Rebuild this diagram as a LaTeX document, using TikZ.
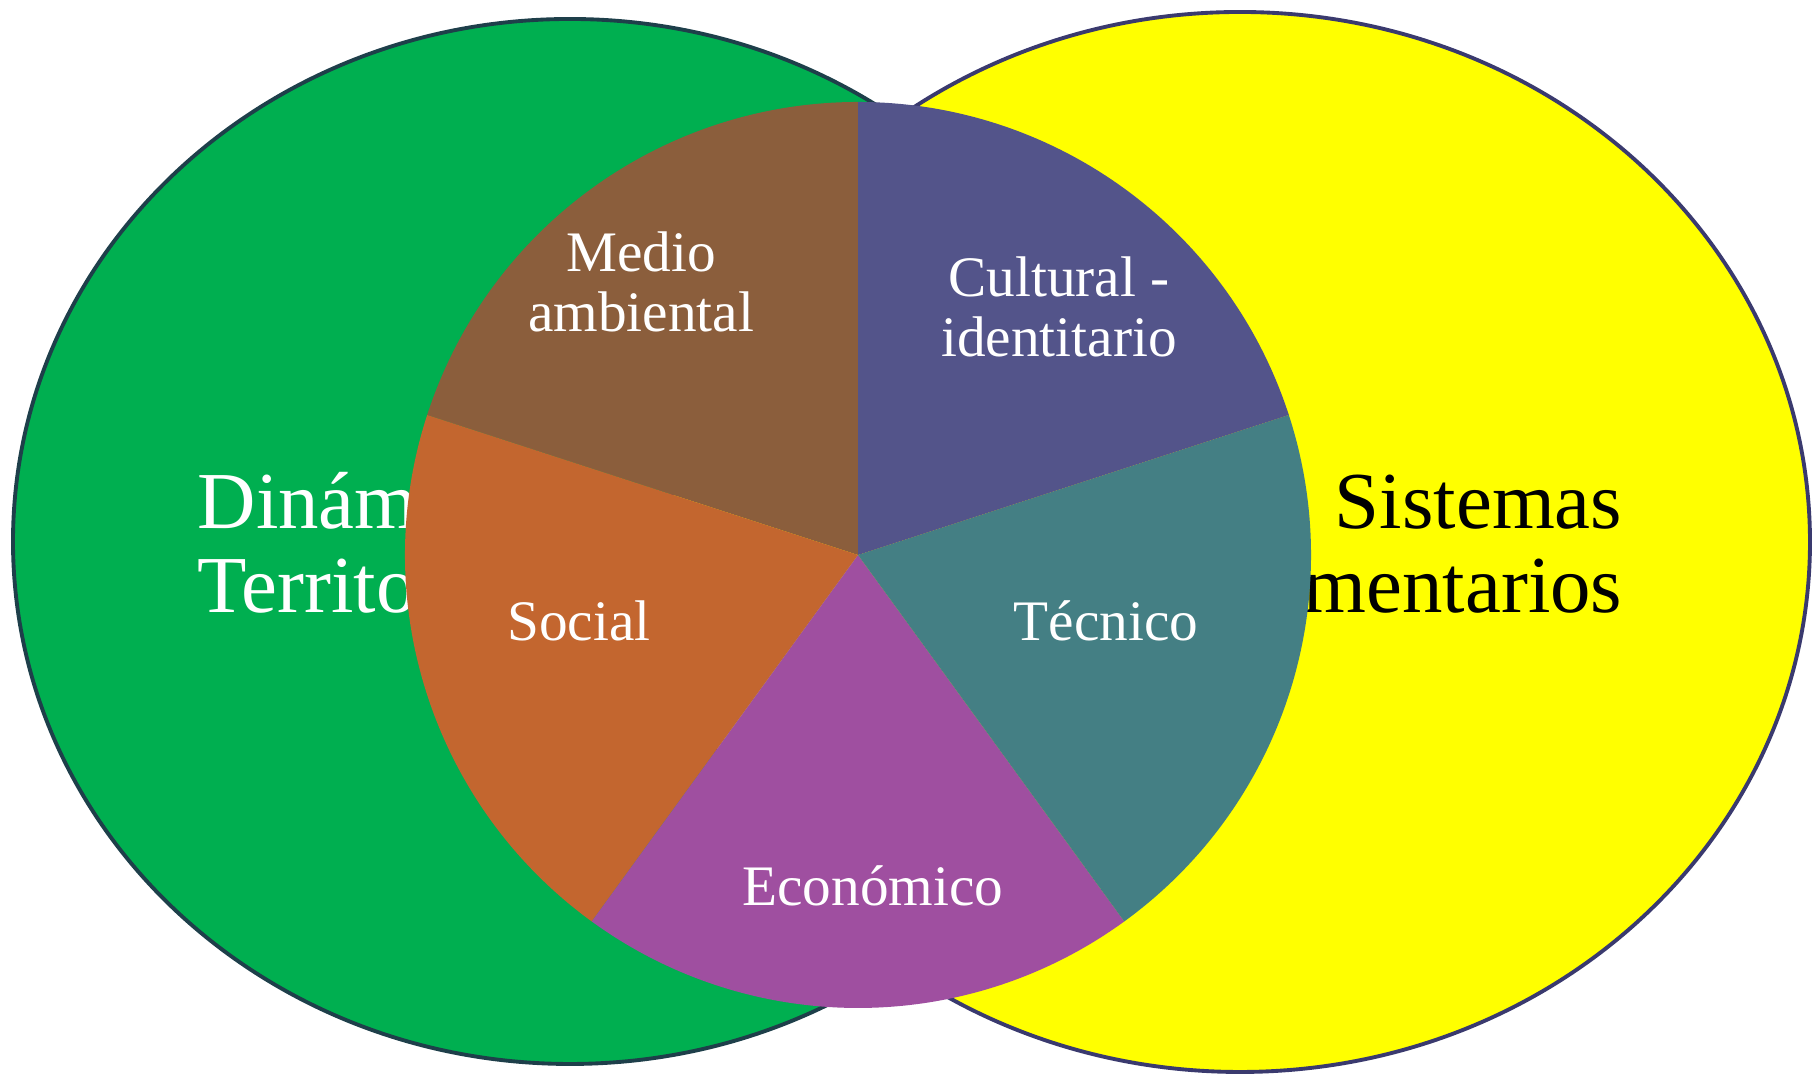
\documentclass[tikz,border=0pt]{standalone}
\usepackage{fontspec}
\setmainfont{Liberation Serif}
\usepackage{tikz}

\definecolor{dimgreen}{HTML}{00AF50}
\definecolor{dimedge}{HTML}{1E3F4A}
\definecolor{sisyellow}{HTML}{FFFF00}
\definecolor{sisedge}{HTML}{3A3A6E}
\definecolor{medio}{HTML}{8B5E3C}
\definecolor{cultural}{HTML}{53548A}
\definecolor{tecnico}{HTML}{447F84}
\definecolor{econ}{HTML}{9F4FA0}
\definecolor{social}{HTML}{C3662F}

\begin{document}
\begin{tikzpicture}[
    bigtext/.style={font=\fontsize{23}{24}\selectfont, inner sep=0pt},
    slicetext/.style={font=\fontsize{16.3}{17.3}\selectfont, text=white, align=center, inner sep=0pt}
  ]
			\useasboundingbox (0,0) rectangle (18.2,10.75);

			% ellipses
			\draw[dimgreen, fill=dimgreen, draw=dimedge, line width=1.1pt] (5.70,5.335) ellipse [x radius=5.57, y radius=5.225];
			\draw[fill=sisyellow, draw=sisedge, line width=1.1pt] (12.40,5.33) ellipse [x radius=5.70, y radius=5.30];
			\node [bigtext, text=white, align=left, anchor=base west] (dinam) at (1.97,4.62) {Dinámicas\\Territoriales};
			\node [bigtext, text=black, align=right, anchor=base east] (sist) at (16.23,4.62) {Sistemas\\Alimentarios};

			% pie
			\coordinate (pie) at (8.58,5.20);
			\foreach \a/\c in {90/medio, 162/social, 234/econ, 306/tecnico, 18/cultural}
				\fill[\c] (pie) -- ++(\a:4.53) arc [start angle=\a, delta angle=72, radius=4.53] -- cycle;

			% labels
			\node [slicetext] (medioamb) at (6.41,7.93) {Medio\\ambiental};
			\node [slicetext] (cultid) at (10.59,7.68) {Cultural -\\identitario};
			\node [slicetext] (soc) at (5.79,4.54) {Social};
			\node [slicetext] (tec) at (11.06,4.54) {Técnico};
			\node [slicetext] (eco) at (8.73,1.89) {Económico};
\end{tikzpicture}
\end{document}
